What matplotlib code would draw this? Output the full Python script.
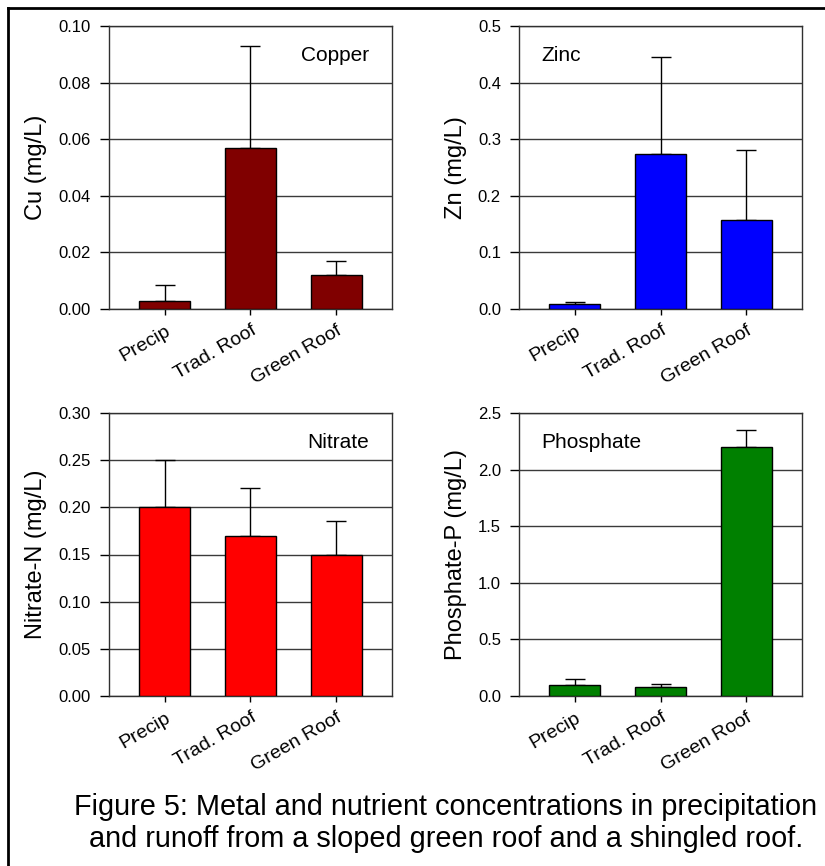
import matplotlib
matplotlib.use('Agg')
import matplotlib.pyplot as plt
from matplotlib.lines import Line2D

plt.rcParams['font.family'] = ['Liberation Sans', 'DejaVu Sans']

categories = ['Precip', 'Trad. Roof', 'Green Roof']

cu_mean = [0.003, 0.057, 0.012]
cu_err = [0.0055, 0.036, 0.005]

zn_mean = [0.008, 0.273, 0.157]
zn_err = [0.005, 0.173, 0.124]

no3_mean = [0.20, 0.17, 0.15]
no3_err = [0.05, 0.05, 0.035]

po4_mean = [0.10, 0.08, 2.20]
po4_err = [0.05, 0.03, 0.15]

# (values, errors, colour, ylabel, name, ymax, tick step, tick format, name x, name align)
panels = [
    (cu_mean, cu_err, '#800000', 'Cu (mg/L)', 'Copper', 0.10, 0.02, '%.2f', 0.92, 'right'),
    (zn_mean, zn_err, '#0000FF', 'Zn (mg/L)', 'Zinc', 0.5, 0.1, '%.1f', 0.08, 'left'),
    (no3_mean, no3_err, '#FF0000', 'Nitrate-N (mg/L)', 'Nitrate', 0.30, 0.05, '%.2f', 0.92, 'right'),
    (po4_mean, po4_err, '#008000', 'Phosphate-P (mg/L)', 'Phosphate', 2.5, 0.5, '%.1f', 0.08, 'left'),
]

W, H = 825, 866
fig = plt.figure(figsize=(W / 100, H / 100), dpi=100)

# axes boxes in pixels: left, top
boxes = [(109, 26), (519, 26), (109, 413), (519, 413)]
aw, ah = 283, 283

for (vals, errs, col, ylab, name, ymax, step, fmt, nx, nha), (px, py) in zip(panels, boxes):
    ax = fig.add_axes([px / W, 1 - (py + ah) / H, aw / W, ah / H])
    x = list(range(len(categories)))
    ax.bar(x, vals, width=0.6, color=col, edgecolor='black', linewidth=1, zorder=3)
    ax.errorbar(x, vals, yerr=[[0] * len(errs), errs], fmt='none', ecolor='black',
                elinewidth=1, capsize=7.5, capthick=1, zorder=2)
    ax.set_xlim(-0.65, 2.65)
    ax.set_ylim(0, ymax)
    n = int(round(ymax / step))
    ticks = [i * step for i in range(n + 1)]
    ax.set_yticks(ticks)
    ax.set_yticklabels([fmt % t for t in ticks], fontsize=12)
    ax.set_xticks(x)
    ax.set_xticklabels(categories, rotation=30, ha='right', rotation_mode='anchor', fontsize=14)
    ax.tick_params(axis='y', direction='out', length=6.5, width=1, pad=6.5, colors='black')
    ax.tick_params(axis='x', direction='out', length=4, width=1, pad=5.5)
    ax.yaxis.grid(True, color='#3a3a3a', linewidth=1)
    ax.set_axisbelow(True)
    for s in ax.spines.values():
        s.set_color('#303030')
        s.set_linewidth(1)
    ax.set_ylabel(ylab, fontsize=17, labelpad=8)
    ax.text(nx, 0.897, name, transform=ax.transAxes, ha=nha, va='center', fontsize=15)

fig.text(446 / W, 1 - 823 / H,
         'Figure 5: Metal and nutrient concentrations in precipitation\n'
         'and runoff from a sloped green roof and a shingled roof.',
         ha='center', va='center', fontsize=20.8, linespacing=1.2)

# frame around the figure (cut off at right and bottom)
fig.add_artist(Line2D([8 / W, 8 / W], [0, 1 - 8 / H], transform=fig.transFigure,
                      color='black', linewidth=2))
fig.add_artist(Line2D([8 / W, 1], [1 - 8 / H, 1 - 8 / H], transform=fig.transFigure,
                      color='black', linewidth=2))

fig.savefig('out.png', dpi=100)
